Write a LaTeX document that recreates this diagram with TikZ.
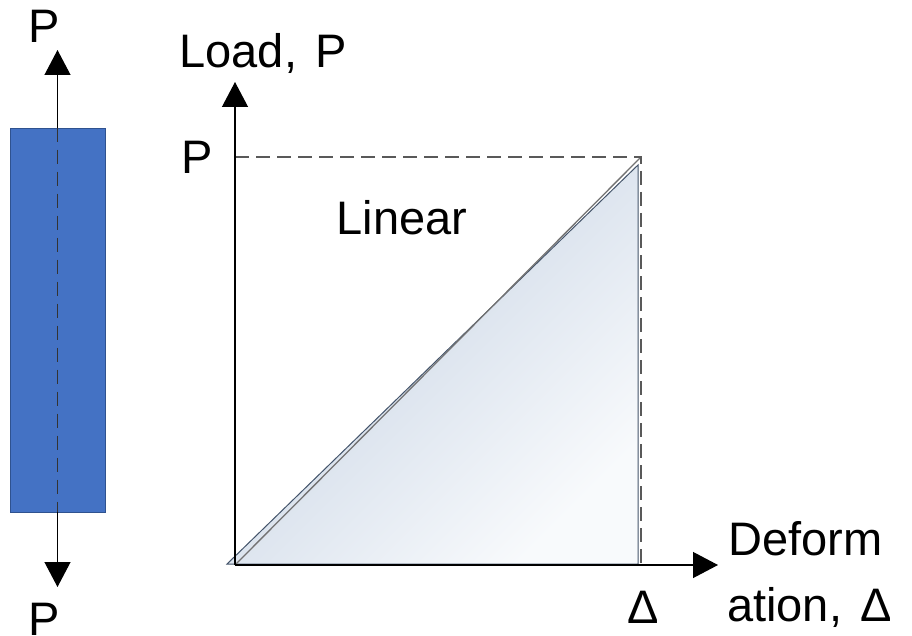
\documentclass[tikz,border=0pt]{standalone}
\usepackage{fontspec}
\setmainfont{Liberation Sans}
\usetikzlibrary{positioning, arrows.meta}

\definecolor{barblue}{HTML}{4472C4}
\definecolor{baredge}{HTML}{2F528F}
\definecolor{areaedge}{HTML}{44546A}
\definecolor{areatop}{HTML}{C3D0E2}
\definecolor{areabot}{HTML}{F8FAFC}

\begin{document}
\begin{tikzpicture}[
  x=1pt, y=-1pt,
  font=\fontsize{47}{52}\selectfont,
  axis/.style={line width=1.2pt, -{Triangle[width=26pt,length=25pt]}},
  guide/.style={dash pattern=on 14pt off 7pt, draw=black!65, line width=1.3pt},
  specimen/.style={draw=baredge, fill=barblue, line width=0.8pt, minimum width=95pt, minimum height=384pt, inner sep=0pt},
  axislabel/.style={anchor=base west, inner sep=0pt},
]
\useasboundingbox (0,0) rectangle (912,636);

% Bar under axial load
\node[specimen] (bar) at (57.5,320) {};
\coordinate (ptop) at (57.5,50);
\coordinate (pbot) at (57.5,587);
\draw[axis] (bar.north) -- (ptop);
\draw[axis] (bar.south) -- (pbot);
\draw[dash pattern=on 14pt off 8pt, line width=1.5pt, draw=black!80] (bar.north) -- (bar.south);
\node (ploadtop) at (44,26) {P};
\node (ploadbot) at (44,619) {P};

% Load-deformation axes
\coordinate (origin) at (235,565);
\coordinate (ytip) at (235,82);
\coordinate (xtip) at (718,565);
\coordinate (peak) at (641,157);

% Area under the line
\shade[top color=areatop, bottom color=areabot, shading angle=45, draw=areaedge, line width=1pt]
  (227,564) -- (638,165) -- (638,564) -- cycle;
\draw[line width=1.3pt, draw=black!55] (origin) -- (peak);

\draw[guide] (origin |- peak) -- (peak) -- (peak |- origin);
\draw[axis] (origin) -- (ytip);
\draw[axis] (origin) -- (xtip);

% Labels
\node[anchor=base] (loadlabel) at (263,68) {Load,\hspace{5pt} P};
\node (pmark) at (197,157) {P};
\node[anchor=base] (linear) at (402,235) {Linear};
\node (deltamark) at (643,607) {Δ};
\node[axislabel] (deform) at (728,555) {Deform};
\node[axislabel] (ation) at (727,621) {ation,\hspace{5pt} Δ};
\end{tikzpicture}
\end{document}
